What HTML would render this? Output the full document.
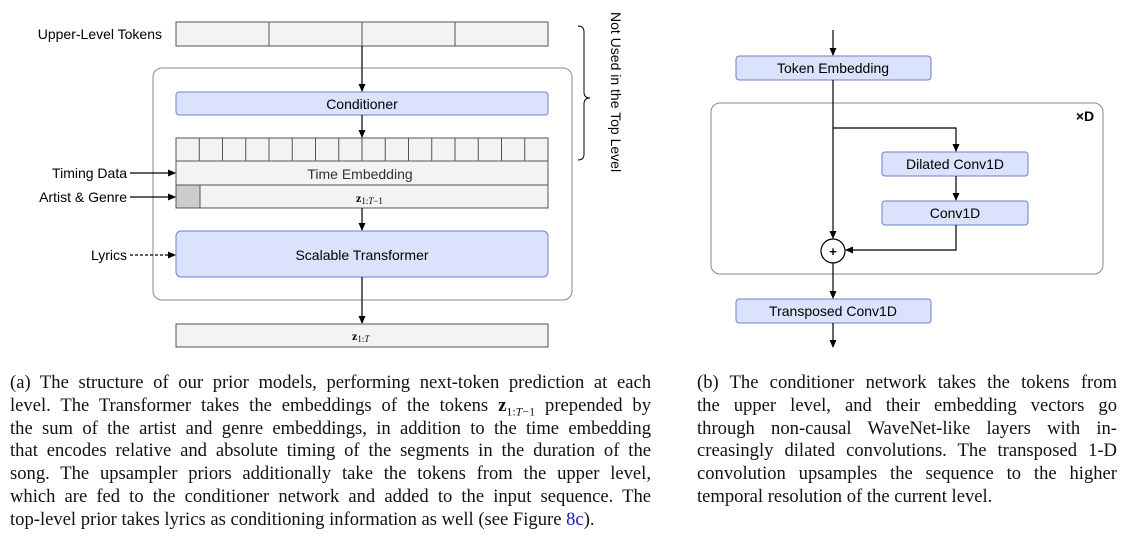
<!DOCTYPE html>
<html><head><meta charset="utf-8"><style>
body{margin:0;background:#fff;width:1127px;height:553px;overflow:hidden;position:relative}
svg{position:absolute;left:0;top:0}
.cap{position:absolute;font-family:"Liberation Serif",serif;font-size:18.6px;color:#111;line-height:22.8px}
.cap div{text-align:justify;text-align-last:justify;white-space:nowrap;height:22.8px}
.cap div.l{text-align-last:left}
sub{line-height:0}
</style></head><body>
<svg width="1127" height="360" font-family="Liberation Sans, sans-serif" font-size="14">
<defs><marker id="a" markerWidth="8" markerHeight="8" refX="7" refY="4" orient="auto" markerUnits="userSpaceOnUse"><path d="M0,0.5 L8,4 L0,7.5 z" fill="#000"/></marker></defs>
<g stroke="#555" stroke-width="1">
<rect x="176" y="22" width="372" height="24" fill="#f3f3f3"/>
<line x1="269" y1="22" x2="269" y2="46"/><line x1="362" y1="22" x2="362" y2="46"/><line x1="455" y1="22" x2="455" y2="46"/>
<rect x="153" y="68" width="419" height="232" rx="9" fill="none" stroke="#888"/>
<rect x="176" y="92" width="372" height="23" rx="3" fill="#dae3fb" stroke="#6c82c8"/>
<rect x="176" y="138" width="372" height="23" fill="#f3f3f3"/>
<rect x="176" y="161" width="372" height="24" fill="#f3f3f3"/>
<rect x="176" y="185" width="372" height="23" fill="#f3f3f3"/>
<rect x="176" y="185" width="24" height="23" fill="#cccccc"/>
<rect x="176" y="231" width="372" height="46" rx="5" fill="#dae3fb" stroke="#6c82c8"/>
<rect x="176" y="324" width="372" height="23" fill="#f3f3f3"/>
</g>
<g stroke="#555">
<line x1="199.25" y1="138" x2="199.25" y2="161"/><line x1="222.5" y1="138" x2="222.5" y2="161"/><line x1="245.75" y1="138" x2="245.75" y2="161"/><line x1="269" y1="138" x2="269" y2="161"/><line x1="292.25" y1="138" x2="292.25" y2="161"/><line x1="315.5" y1="138" x2="315.5" y2="161"/><line x1="338.75" y1="138" x2="338.75" y2="161"/><line x1="362" y1="138" x2="362" y2="161"/><line x1="385.25" y1="138" x2="385.25" y2="161"/><line x1="408.5" y1="138" x2="408.5" y2="161"/><line x1="431.75" y1="138" x2="431.75" y2="161"/><line x1="455" y1="138" x2="455" y2="161"/><line x1="478.25" y1="138" x2="478.25" y2="161"/><line x1="501.5" y1="138" x2="501.5" y2="161"/><line x1="524.75" y1="138" x2="524.75" y2="161"/>
</g>
<g stroke="#000" stroke-width="1.2" fill="none" marker-end="url(#a)">
<line x1="362" y1="46" x2="362" y2="91"/>
<line x1="362" y1="115" x2="362" y2="137"/>
<line x1="362" y1="208" x2="362" y2="230"/>
<line x1="362" y1="277" x2="362" y2="323"/>
<line x1="130" y1="173" x2="175" y2="173"/>
<line x1="130" y1="197" x2="175" y2="197"/>
<line x1="130" y1="255" x2="175" y2="255" stroke-dasharray="3,2"/>
</g>
<path d="M578,26 q6,0 6,6 v60 q0,6 6,6 q-6,0 -6,6 v50 q0,6 -6,6" fill="none" stroke="#000" stroke-width="1"/>
<text x="608" y="12" transform="rotate(90 608 12)" font-size="14" dy="-3">Not Used in the Top Level</text>
<g fill="#000">
<text x="162" y="39" text-anchor="end">Upper-Level Tokens</text>
<text x="362" y="109" text-anchor="middle">Conditioner</text>
<text x="360" y="179" text-anchor="middle" fill="#333">Time Embedding</text>
<text x="127" y="178" text-anchor="end">Timing Data</text>
<text x="127" y="202" text-anchor="end">Artist &amp; Genre</text>
<text x="127" y="260" text-anchor="end">Lyrics</text>
<text x="362" y="260" text-anchor="middle">Scalable Transformer</text>
<text x="356" y="202" font-family="Liberation Serif, serif" font-size="12"><tspan font-weight="bold">z</tspan><tspan font-size="9" dy="2">1:</tspan><tspan font-size="9" font-style="italic">T</tspan><tspan font-size="9">−1</tspan></text>
<text x="352" y="340" font-family="Liberation Serif, serif" font-size="12"><tspan font-weight="bold">z</tspan><tspan font-size="9" dy="2">1:</tspan><tspan font-size="9" font-style="italic">T</tspan></text>
</g>
<rect x="711" y="103" width="392" height="171" rx="9" fill="none" stroke="#888"/>
<g stroke="#6c82c8" fill="#dae3fb">
<rect x="736" y="56" width="195" height="24" rx="3"/>
<rect x="882" y="152" width="146" height="24" rx="3"/>
<rect x="882" y="201" width="146" height="24" rx="3"/>
<rect x="736" y="299" width="195" height="24" rx="3"/>
</g>
<g stroke="#000" stroke-width="1.2" fill="none">
<line x1="833" y1="30" x2="833" y2="55" marker-end="url(#a)"/>
<line x1="833" y1="80" x2="833" y2="238" marker-end="url(#a)"/>
<polyline points="833,128 956,128 956,151" marker-end="url(#a)"/>
<line x1="956" y1="176" x2="956" y2="200" marker-end="url(#a)"/>
<polyline points="956,225 956,250 846,250" marker-end="url(#a)"/>
<line x1="833" y1="263" x2="833" y2="298" marker-end="url(#a)"/>
<line x1="833" y1="323" x2="833" y2="347" marker-end="url(#a)"/>
<circle cx="833" cy="251" r="12" fill="#fff"/>
</g>
<g fill="#000">
<text x="833" y="252" text-anchor="middle" font-weight="bold" font-size="13" dy="4">+</text>
<text x="1085" y="121" text-anchor="middle" font-weight="bold">×D</text>
<text x="833" y="73" text-anchor="middle">Token Embedding</text>
<text x="955" y="169" text-anchor="middle">Dilated Conv1D</text>
<text x="955" y="218" text-anchor="middle">Conv1D</text>
<text x="833" y="316" text-anchor="middle">Transposed Conv1D</text>
</g>
</svg>
<div class="cap" style="left:10px;top:372px;width:641px">
<div>(a) The structure of our prior models, performing next-token prediction at each</div>
<div>level. The Transformer takes the embeddings of the tokens <b>z</b><sub style="font-size:12px">1:<i>T</i>−1</sub> prepended by</div>
<div>the sum of the artist and genre embeddings, in addition to the time embedding</div>
<div>that encodes relative and absolute timing of the segments in the duration of the</div>
<div>song. The upsampler priors additionally take the tokens from the upper level,</div>
<div>which are fed to the conditioner network and added to the input sequence. The</div>
<div class="l">top-level prior takes lyrics as conditioning information as well (see Figure <span style="color:#1a1ab0">8c</span>).</div>
</div>
<div class="cap" style="left:697px;top:372px;width:420px">
<div>(b) The conditioner network takes the tokens from</div>
<div>the upper level, and their embedding vectors go</div>
<div>through non-causal WaveNet-like layers with in-</div>
<div>creasingly dilated convolutions. The transposed 1-D</div>
<div>convolution upsamples the sequence to the higher</div>
<div class="l">temporal resolution of the current level.</div>
</div>
</body></html>
